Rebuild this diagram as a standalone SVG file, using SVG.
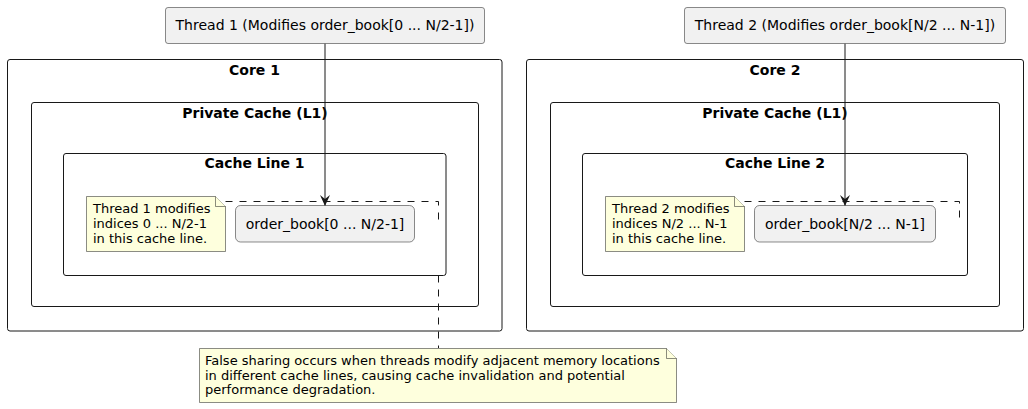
<svg xmlns="http://www.w3.org/2000/svg" width="1028" height="409" viewBox="0 0 1028 409">
<defs>
<style>
.cl{fill:none;stroke:#181818;stroke-width:1}
.ct{font-family:"DejaVu Sans",sans-serif;font-size:14px;font-weight:bold;fill:#000;text-anchor:middle}
.bx{fill:#F1F1F1;stroke:#181818;stroke-width:0.5}
.bt{font-family:"DejaVu Sans",sans-serif;font-size:14px;fill:#000;text-anchor:middle}
.nt{fill:#FEFFDD;stroke:#181818;stroke-width:0.5}
.ntt{font-family:"DejaVu Sans",sans-serif;font-size:13px;fill:#000}
.ed{fill:none;stroke:#181818;stroke-width:1}
.dl{fill:none;stroke:#181818;stroke-width:1;stroke-dasharray:7,7}
</style>
<marker id="ah" viewBox="0 0 12 12" refX="11" refY="6" markerWidth="12" markerHeight="12" orient="auto" markerUnits="userSpaceOnUse">
<path d="M0,1 L11,6 L0,11 L4,6 Z" fill="#181818"/>
</marker>
</defs>
<rect width="1028" height="409" fill="#FFFFFF"/>

<g id="core1">
<rect class="cl" x="7.5" y="59.5" width="494.5" height="271.5" rx="2.5"/>
<text class="ct" x="254.5" y="75">Core 1</text>
</g>
<g id="cache1">
<rect class="cl" x="31.5" y="102.5" width="447" height="204" rx="2.5"/>
<text class="ct" x="255" y="118">Private Cache (L1)</text>
</g>
<g id="line1">
<rect class="cl" x="63.5" y="153.5" width="382.5" height="122" rx="2.5"/>
<text class="ct" x="254.5" y="168">Cache Line 1</text>
</g>
<g id="core2">
<rect class="cl" x="526.5" y="59.5" width="497" height="271.5" rx="2.5"/>
<text class="ct" x="775" y="75">Core 2</text>
</g>
<g id="cache2">
<rect class="cl" x="550.5" y="102.5" width="449" height="204" rx="2.5"/>
<text class="ct" x="775" y="118">Private Cache (L1)</text>
</g>
<g id="line2">
<rect class="cl" x="582.5" y="153.5" width="385" height="122" rx="2.5"/>
<text class="ct" x="775" y="168">Cache Line 2</text>
</g>

<g id="connectors">
<path class="ed" d="M325,43.5 L325,206" marker-end="url(#ah)"/>
<path class="ed" d="M845,43.5 L845,206" marker-end="url(#ah)"/>
<path class="dl" d="M225.5,201.5 L438.5,201.5 L438.5,222"/>
<path class="dl" d="M744.5,201.5 L959.5,201.5 L959.5,218"/>
<path class="dl" d="M438.5,275.5 L438.5,348"/>
</g>

<g id="thread1">
<rect class="bx" x="165.5" y="7.5" width="319" height="36" rx="2.5"/>
<text class="bt" x="325" y="30">Thread 1 (Modifies order_book[0 ... N/2-1])</text>
</g>
<g id="thread2">
<rect class="bx" x="684.5" y="7.5" width="321" height="36" rx="2.5"/>
<text class="bt" x="845" y="30">Thread 2 (Modifies order_book[N/2 ... N-1])</text>
</g>

<g id="ob1">
<rect class="bx" x="235.5" y="205.5" width="179" height="36.5" rx="5"/>
<text class="bt" x="325" y="229">order_book[0 ... N/2-1]</text>
</g>
<g id="ob2">
<rect class="bx" x="754.5" y="205.5" width="181" height="36.5" rx="5"/>
<text class="bt" x="845" y="229">order_book[N/2 ... N-1]</text>
</g>

<g id="note1">
<path class="nt" d="M86.5,196.5 L215.5,196.5 L225.5,206.5 L225.5,251.5 L86.5,251.5 Z"/>
<path class="nt" d="M215.5,196.5 L215.5,206.5 L225.5,206.5"/>
<text class="ntt" x="93" y="212.5">Thread 1 modifies</text>
<text class="ntt" x="93" y="227.5">indices 0 ... N/2-1</text>
<text class="ntt" x="93" y="242.5">in this cache line.</text>
</g>
<g id="note2">
<path class="nt" d="M605.5,196.5 L734.5,196.5 L744.5,206.5 L744.5,251.5 L605.5,251.5 Z"/>
<path class="nt" d="M734.5,196.5 L734.5,206.5 L744.5,206.5"/>
<text class="ntt" x="612" y="212.5">Thread 2 modifies</text>
<text class="ntt" x="612" y="227.5">indices N/2 ... N-1</text>
<text class="ntt" x="612" y="242.5">in this cache line.</text>
</g>
<g id="note3">
<path class="nt" d="M199.5,348.5 L666.5,348.5 L676.5,358.5 L676.5,402.5 L199.5,402.5 Z"/>
<path class="nt" d="M666.5,348.5 L666.5,358.5 L676.5,358.5"/>
<text class="ntt" x="205" y="365">False sharing occurs when threads modify adjacent memory locations</text>
<text class="ntt" x="205" y="379.5">in different cache lines, causing cache invalidation and potential</text>
<text class="ntt" x="205" y="394">performance degradation.</text>
</g>
</svg>
